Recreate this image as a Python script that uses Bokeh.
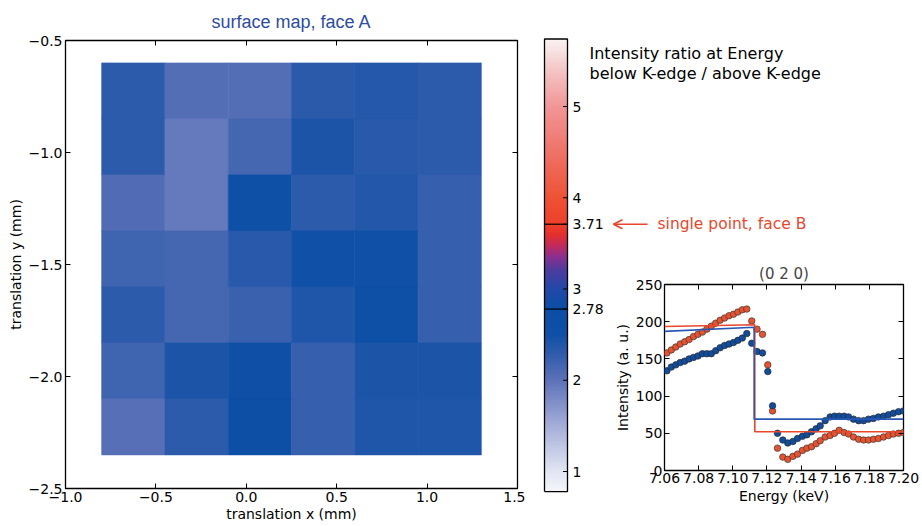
import numpy as np
from bokeh.plotting import figure
from bokeh.models import (LinearColorMapper, Range1d, FixedTicker, LinearAxis,
                          ColumnDataSource, CustomJSTickFormatter)
from bokeh.layouts import row, column
from bokeh.embed import file_html
from bokeh.resources import INLINE
from bokeh.core.properties import value

# ------------------------------------------------------------------ data
# surface map (face A): cell centres and intensity ratios (top row first)
x_centers = [-0.625, -0.275, 0.075, 0.425, 0.775, 1.125]
y_centers = [-0.725, -0.975, -1.225, -1.475, -1.725, -1.975, -2.225]
ratio_row1 = [2.30, 2.04, 2.05, 2.32, 2.35, 2.30]
ratio_row2 = [2.31, 1.93, 2.15, 2.42, 2.34, 2.31]
ratio_row3 = [2.06, 1.94, 2.55, 2.31, 2.38, 2.24]
ratio_row4 = [2.18, 2.14, 2.33, 2.50, 2.49, 2.25]
ratio_row5 = [2.30, 2.15, 2.22, 2.40, 2.58, 2.25]
ratio_row6 = [2.18, 2.42, 2.52, 2.25, 2.41, 2.41]
ratio_row7 = [2.03, 2.31, 2.65, 2.24, 2.40, 2.40]
ratio_rows = [ratio_row1, ratio_row2, ratio_row3, ratio_row4,
              ratio_row5, ratio_row6, ratio_row7]
cell_w, cell_h = 0.35, 0.25

main_xticks = [-1.0, -0.5, 0.0, 0.5, 1.0, 1.5]
main_yticks = [-2.5, -2.0, -1.5, -1.0, -0.5]

# colour bar
cb_low, cb_high = 0.78, 5.74
cb_ticks = [1, 2, 2.78, 3, 3.71, 4, 5]
cb_labels = ["1", "2", "2.78", "3", "3.71", "4", "5"]
marked_levels = [2.78, 3.71]          # face A max, face B single point
face_b_point = 3.71

# inset (0 2 0) spectrum
energy = [7.0614, 7.0640, 7.0666, 7.0692, 7.0718, 7.0744, 7.0770, 7.0796, 7.0822,
          7.0848, 7.0874, 7.0900, 7.0926, 7.0952, 7.0978, 7.1004, 7.1030, 7.1056,
          7.1082, 7.1111, 7.1142, 7.1174, 7.1205, 7.1233, 7.1262, 7.1293, 7.1322,
          7.1352, 7.1379, 7.1408, 7.1434, 7.1461, 7.1488, 7.1512, 7.1541, 7.1570,
          7.1596, 7.1623, 7.1652, 7.1678, 7.1707, 7.1737, 7.1766, 7.1795, 7.1824,
          7.1853, 7.1883, 7.1912, 7.1941, 7.1971, 7.2000]
red_intensity = [158, 162, 166, 170, 173, 176, 180, 183, 186, 190, 194, 198, 202,
                 205, 208, 210, 213, 216, 217, 201, 190, 183, 142, 80, 30, 18, 15,
                 19, 22, 27, 30, 32, 36, 40, 45, 47, 50, 54, 51, 49, 45, 42, 41,
                 41, 42, 43, 45, 47, 49, 50, 51]
blue_intensity = [134, 139, 142, 145, 147, 150, 152, 154, 157, 157, 157, 161, 165,
                  168, 170, 172, 175, 178, 184, 171, 160, 158, 133, 87, 50, 41, 37,
                  39, 43, 46, 48, 52, 56, 60, 67, 72, 73, 73, 73, 72, 69, 67, 67,
                  69, 70, 72, 73, 75, 77, 79, 80]
red_fit_E = [7.06, 7.1129, 7.1129, 7.20]
red_fit_I = [193.5, 196, 52, 52]
blue_fit_E = [7.06, 7.1125, 7.1125, 7.20]
blue_fit_I = [187, 192.5, 69, 69]
inset_xticks = [7.06, 7.08, 7.10, 7.12, 7.14, 7.16, 7.18, 7.20]
inset_yticks = [0, 50, 100, 150, 200, 250]

# ------------------------------------------------------------------ style
FONT = "DejaVu Sans"
RED = "#e8472c"
DOT_RED = "#e8522e"
DOT_BLUE = "#114d9e"
LINE_BLUE = "#2a57b3"
TITLE_BLUE = "#2d4ca2"

stops = [(0.78, "#f4f5fa"), (1.0, "#e0e4f2"), (1.5, "#a3add8"), (2.0, "#5b71b8"),
         (2.3, "#2d5bab"), (2.5, "#0f50a6"), (2.78, "#0b4ea5"), (3.0, "#2248a8"),
         (3.2, "#4c3c9e"), (3.35, "#8a3090"), (3.48, "#c42a58"), (3.6, "#e4302c"),
         (3.71, "#ee402a"), (4.0, "#ee5234"), (4.5, "#ef7268"), (5.0, "#f19696"),
         (5.4, "#f5c4c4"), (5.74, "#f9f3f3")]


def hex2rgb(h):
    return [int(h[i:i + 2], 16) for i in (1, 3, 5)]


sv = [s[0] for s in stops]
sc = np.array([hex2rgb(s[1]) for s in stops], dtype=float)
palette = []
for v in np.linspace(cb_low, cb_high, 256):
    rgb = [int(round(np.interp(v, sv, sc[:, k]))) for k in range(3)]
    palette.append("#%02x%02x%02x" % tuple(rgb))
mapper = LinearColorMapper(palette=palette, low=cb_low, high=cb_high)

fmt1 = CustomJSTickFormatter(code="return tick.toFixed(1).replace('-', '\u2212');")
fmt2 = CustomJSTickFormatter(code="return tick.toFixed(2);")
fmt0 = CustomJSTickFormatter(code="return tick.toFixed(0);")
fmt_none = CustomJSTickFormatter(code="return '';")


def style_axis(ax, labels=True):
    ax.major_tick_in = 5
    ax.major_tick_out = 0
    ax.minor_tick_line_color = None
    ax.axis_line_color = None
    ax.major_tick_line_color = "black"
    ax.major_tick_line_width = 1
    ax.major_label_text_font = FONT
    ax.major_label_text_font_size = "14px" if labels else "1px"
    ax.major_label_text_color = "black"
    ax.major_label_standoff = 3 if labels else 0
    ax.axis_label_text_font = FONT
    ax.axis_label_text_font_size = "14px"
    ax.axis_label_text_font_style = "normal"
    ax.axis_label_text_color = "black"
    ax.axis_label_standoff = 2
    if not labels:
        ax.formatter = fmt_none


# ------------------------------------------------------------------ main map
p = figure(width=525, height=526, x_range=Range1d(-1.0, 1.5), y_range=Range1d(-2.5, -0.5),
           output_backend="svg", toolbar_location=None,
           min_border_left=65, min_border_right=8, min_border_top=40, min_border_bottom=38)
p.grid.visible = False
p.outline_line_color = "black"
p.outline_line_width = 1.3
p.title.text = "surface map, face A"
p.title.align = "center"
p.title.text_font = "Liberation Sans"
p.title.text_font_size = "18px"
p.title.text_font_style = "normal"
p.title.text_color = TITLE_BLUE
p.title.standoff = 17

hx, hy, hv = [], [], []
for yc, rvals in zip(y_centers, ratio_rows):
    for xc, v in zip(x_centers, rvals):
        hx.append(xc)
        hy.append(yc)
        hv.append(v)
src = ColumnDataSource(dict(x=hx, y=hy, ratio=hv))
p.rect("x", "y", width=cell_w, height=cell_h, source=src,
       fill_color={"field": "ratio", "transform": mapper},
       line_color={"field": "ratio", "transform": mapper}, line_width=0.6)

p.xaxis.ticker = FixedTicker(ticks=main_xticks)
p.yaxis.ticker = FixedTicker(ticks=main_yticks)
p.xaxis.axis_label = "translation x (mm)"
p.yaxis.axis_label = "translation y (mm)"
for ax in p.xaxis + p.yaxis:
    style_axis(ax)
    ax.formatter = fmt1
p.xaxis.axis_label_standoff = 1
ax_top = LinearAxis(ticker=FixedTicker(ticks=main_xticks))
style_axis(ax_top, labels=False)
p.add_layout(ax_top, "above")
ax_right = LinearAxis(ticker=FixedTicker(ticks=main_yticks))
style_axis(ax_right, labels=False)
p.add_layout(ax_right, "right")

# ------------------------------------------------------------------ right panel: inset + colour bar
# right panel spans page x 525..922; its frame is the inset's axes box
PANEL_X0 = 525
FR_L, FR_R, FR_T, FR_B = 664, 903, 284, 470      # inset frame in page pixels
PX_PER_UNIT = 91.25                               # colour-bar pixels per ratio unit


def ry(page_y):
    # page pixel row -> ratio units on the colour-bar scale (ratio 5 sits at row 106)
    return 5 + (106 - page_y) / PX_PER_UNIT


pr = figure(width=922 - PANEL_X0, height=526, x_range=Range1d(7.06, 7.20),
            y_range=Range1d(0, 250), output_backend="svg", toolbar_location=None,
            min_border_left=FR_L - PANEL_X0, min_border_right=922 - FR_R,
            min_border_top=FR_T, min_border_bottom=526 - FR_B)
pr.grid.visible = False
pr.outline_line_color = "black"
pr.outline_line_width = 1.3
pr.extra_x_ranges = {"px": Range1d(FR_L, FR_R)}
pr.extra_y_ranges = {"cb": Range1d(ry(FR_B), ry(FR_T))}

pr.title.text = "(0 2 0)"
pr.title.align = "center"
pr.title.text_font = FONT
pr.title.text_font_size = "15px"
pr.title.text_font_style = "normal"
pr.title.standoff = 4

pr.scatter(energy, red_intensity, size=6.5, fill_color=DOT_RED, line_color="#3a3a3a",
           line_width=0.7)
pr.scatter(energy, blue_intensity, size=6.5, fill_color=DOT_BLUE, line_color="#2a2a2a",
           line_width=0.7)
pr.line(red_fit_E, red_fit_I, line_color=RED, line_width=1.6)
pr.line(blue_fit_E, blue_fit_I, line_color=LINE_BLUE, line_width=1.6)

pr.xaxis.ticker = FixedTicker(ticks=inset_xticks)
pr.yaxis.ticker = FixedTicker(ticks=inset_yticks)
pr.xaxis.axis_label = "Energy (keV)"
pr.yaxis.axis_label = "Intensity (a. u.)"
for ax in pr.xaxis + pr.yaxis:
    style_axis(ax)
    ax.major_label_standoff = 2
    ax.axis_label_standoff = 2
pr.xaxis.formatter = fmt2
pr.yaxis.formatter = fmt0
it = LinearAxis(ticker=FixedTicker(ticks=inset_xticks))
style_axis(it, labels=False)
pr.add_layout(it, "above")
ir = LinearAxis(ticker=FixedTicker(ticks=inset_yticks))
style_axis(ir, labels=False)
pr.add_layout(ir, "right")

# colour bar, drawn outside the inset frame on pixel / ratio scales
BAR_L, BAR_R = 544, 567
cbk = dict(x_range_name="px", y_range_name="cb", level="overlay")
grad = np.linspace(cb_low, cb_high, 600).reshape(-1, 1)
pr.image(image=[grad], x=BAR_L, y=cb_low, dw=BAR_R - BAR_L, dh=cb_high - cb_low,
         color_mapper=mapper, **cbk)
pr.segment(x0=[BAR_R - 4.5] * len(cb_ticks), x1=[BAR_R] * len(cb_ticks),
           y0=cb_ticks, y1=cb_ticks, line_color="black", line_width=1, **cbk)
pr.segment(x0=[BAR_L] * 2, x1=[BAR_R] * 2, y0=marked_levels, y1=marked_levels,
           line_color="black", line_width=1.2, **cbk)
pr.line(x=[BAR_L, BAR_L, BAR_R, BAR_R, BAR_L], y=[cb_low, cb_high, cb_high, cb_low, cb_low],
        line_color="black", line_width=1.3, **cbk)
pr.text(x=[BAR_R + 5] * len(cb_ticks), y=cb_ticks, text=cb_labels,
        text_font=value(FONT), text_font_size="14px", text_baseline="middle",
        text_align="left", text_color="black", **cbk)

# arrow pointing at the face-B value on the colour bar
ARROW_TIP, ARROW_TAIL, HEAD_LEN, HEAD_HALF = 613, 647, 9, 4.5 / PX_PER_UNIT
pr.segment(x0=[ARROW_TAIL, ARROW_TIP, ARROW_TIP],
           x1=[ARROW_TIP, ARROW_TIP + HEAD_LEN, ARROW_TIP + HEAD_LEN],
           y0=[face_b_point] * 3,
           y1=[face_b_point, face_b_point + HEAD_HALF, face_b_point - HEAD_HALF],
           line_color=RED, line_width=1.6, **cbk)
pr.text(x=[657], y=[face_b_point], text=["single point, face B"],
        text_font=value(FONT), text_font_size="15.5px", text_baseline="middle",
        text_color=RED, **cbk)
pr.text(x=[589, 589], y=[ry(53), ry(73)],
        text=["Intensity ratio at Energy", "below K-edge / above K-edge"],
        text_font=value(FONT), text_font_size="16px", text_baseline="middle",
        text_color="black", **cbk)

layout = row(p, column(pr))
open("out.html", "w").write(file_html(layout, INLINE))
